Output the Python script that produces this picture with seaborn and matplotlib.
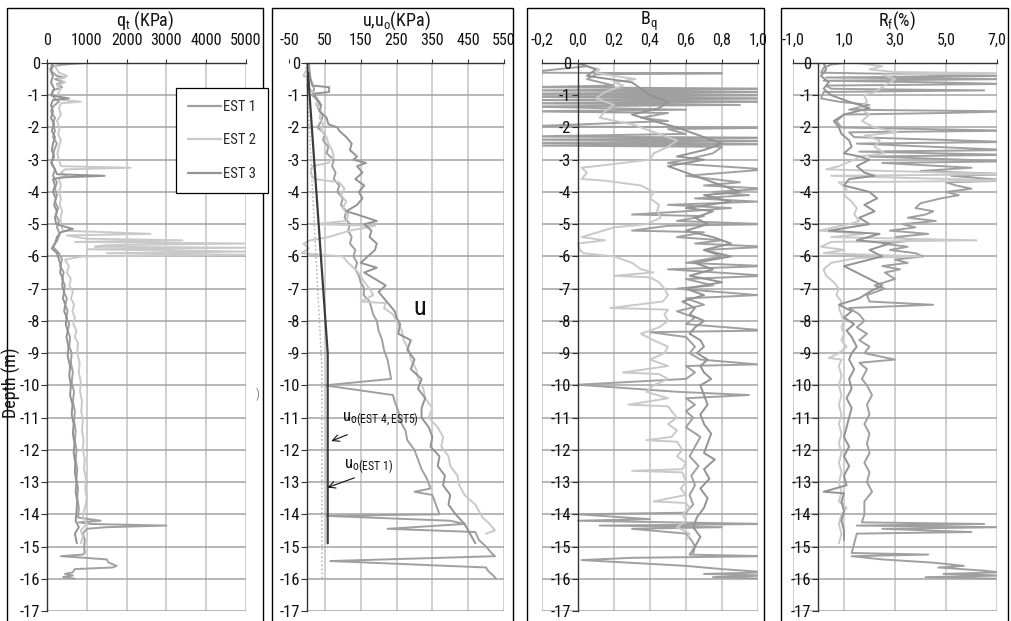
import numpy as np
import pandas as pd
import seaborn as sns
import matplotlib
matplotlib.use('Agg')
import matplotlib.pyplot as plt
from matplotlib.patches import Rectangle
from matplotlib.lines import Line2D

# ---------------- data: (depth m, value) ----------------
series_names = ['EST 1', 'EST 2', 'EST 3']

qt_est1 = [(0.0, 950), (-0.05, 400), (-0.1, 150), (-0.25, 100), (-0.4, 250), (-0.45, 450), (-0.5, 200), (-0.6, 420),
           (-0.65, 250), (-0.75, 380), (-0.85, 150), (-1.0, 120), (-1.1, 200), (-1.2, 300), (-1.35, 150), (-1.5, 100),
           (-1.7, 200), (-1.9, 150), (-2.1, 200), (-2.3, 150), (-2.5, 250), (-2.7, 180), (-2.9, 150), (-3.1, 120),
           (-3.3, 200), (-3.5, 150), (-3.7, 250), (-3.9, 200), (-4.1, 250), (-4.3, 200), (-4.5, 280), (-4.7, 220),
           (-4.9, 300), (-5.1, 250), (-5.3, 320), (-5.5, 260), (-5.7, 150), (-5.9, 300), (-6.1, 380), (-6.3, 330),
           (-6.5, 420), (-6.7, 380), (-6.9, 450), (-7.1, 420), (-7.3, 500), (-7.5, 460), (-7.7, 520), (-7.9, 480),
           (-8.1, 560), (-8.3, 520), (-8.5, 580), (-8.8, 560), (-9.0, 620), (-9.3, 600), (-9.6, 650), (-9.9, 620),
           (-10.2, 680), (-10.5, 650), (-10.8, 700), (-11.1, 680), (-11.4, 720), (-11.7, 700), (-12.0, 740),
           (-12.3, 720), (-12.6, 760), (-12.9, 740), (-13.2, 780), (-13.5, 760), (-13.8, 800), (-14.1, 780),
           (-14.2, 1350), (-14.25, 800), (-14.3, 1100), (-14.35, 3000), (-14.4, 1500), (-14.45, 1000), (-14.6, 900),
           (-14.8, 950), (-15.0, 930), (-15.2, 950), (-15.25, 900), (-15.3, 350), (-15.35, 950), (-15.4, 1500),
           (-15.5, 1550), (-15.6, 1750), (-15.65, 1650), (-15.7, 700), (-15.8, 650), (-15.85, 450), (-15.9, 650),
           (-15.95, 400), (-16.0, 700)]
qt_est2 = [(0.0, 300), (-0.1, 200), (-0.3, 300), (-0.4, 500), (-0.5, 300), (-0.6, 450), (-0.7, 250), (-0.8, 350),
           (-1.0, 250), (-1.15, 400), (-1.2, 850), (-1.25, 350), (-1.4, 300), (-1.6, 350), (-1.8, 250), (-2.0, 320),
           (-2.2, 280), (-2.4, 350), (-2.6, 300), (-2.8, 260), (-3.0, 300), (-3.2, 350), (-3.25, 2100), (-3.3, 450),
           (-3.4, 350), (-3.5, 500), (-3.6, 300), (-3.8, 350), (-4.0, 300), (-4.2, 350), (-4.4, 320), (-4.6, 380),
           (-4.8, 340), (-5.0, 350), (-5.2, 400), (-5.3, 2600), (-5.35, 500), (-5.45, 1000), (-5.5, 3400),
           (-5.55, 700), (-5.6, 5000), (-5.65, 1500), (-5.7, 1200), (-5.73, 5000), (-5.78, 1000), (-5.85, 5000),
           (-5.9, 1500), (-5.95, 5000), (-6.0, 900), (-6.1, 450), (-6.3, 550), (-6.5, 500), (-6.7, 600), (-6.9, 560),
           (-7.1, 650), (-7.3, 600), (-7.5, 680), (-7.7, 640), (-7.9, 700), (-8.1, 660), (-8.3, 740), (-8.5, 700),
           (-8.7, 780), (-9.0, 760), (-9.3, 820), (-9.6, 800), (-9.9, 850), (-10.2, 830), (-10.5, 880), (-10.8, 860),
           (-11.1, 900), (-11.4, 880), (-11.7, 920), (-12.0, 900), (-12.3, 950), (-12.6, 930), (-12.9, 980),
           (-13.2, 960), (-13.5, 1000), (-13.8, 950), (-14.1, 900), (-14.3, 1000), (-14.5, 850), (-14.7, 900),
           (-14.9, 850)]
qt_est3 = [(0.0, 150), (-0.2, 80), (-0.4, 150), (-0.6, 100), (-0.8, 180), (-1.0, 100), (-1.1, 550), (-1.15, 150),
           (-1.3, 100), (-1.5, 150), (-1.7, 100), (-1.9, 180), (-2.1, 120), (-2.3, 200), (-2.5, 150), (-2.7, 120),
           (-2.9, 180), (-3.1, 100), (-3.3, 200), (-3.45, 250), (-3.5, 1450), (-3.55, 350), (-3.6, 150), (-3.8, 200),
           (-4.0, 150), (-4.2, 220), (-4.4, 180), (-4.6, 250), (-4.8, 200), (-5.0, 230), (-5.15, 650), (-5.25, 350),
           (-5.4, 250), (-5.6, 200), (-5.75, 120), (-5.9, 250), (-6.1, 300), (-6.3, 350), (-6.5, 330), (-6.7, 400),
           (-6.9, 380), (-7.1, 430), (-7.3, 400), (-7.5, 460), (-7.7, 430), (-7.9, 500), (-8.1, 470), (-8.3, 520),
           (-8.5, 490), (-8.8, 540), (-9.1, 520), (-9.4, 580), (-9.7, 560), (-10.0, 600), (-10.3, 580), (-10.6, 640),
           (-10.9, 620), (-11.2, 670), (-11.5, 650), (-11.8, 690), (-12.1, 670), (-12.4, 710), (-12.7, 700),
           (-13.0, 740), (-13.3, 720), (-13.6, 760), (-13.9, 740), (-14.2, 720), (-14.4, 800), (-14.6, 700),
           (-14.9, 750)]

u_est1 = [(0.0, 0), (-0.3, 5), (-0.5, 10), (-0.8, 20), (-1.0, 15), (-1.2, 35), (-1.4, 30), (-1.6, 45), (-1.8, 40),
          (-2.0, 30), (-2.2, 50), (-2.4, 45), (-2.6, 60), (-2.8, 55), (-3.0, 75), (-3.2, 70), (-3.4, 80), (-3.6, 75),
          (-3.8, 90), (-4.0, 85), (-4.2, 100), (-4.4, 95), (-4.6, 110), (-4.8, 105), (-5.0, 120), (-5.2, 115),
          (-5.4, 125), (-5.6, 120), (-5.8, 135), (-6.0, 130), (-6.2, 140), (-6.4, 135), (-6.6, 145), (-6.8, 150),
          (-7.0, 160), (-7.2, 158), (-7.4, 175), (-7.6, 180), (-7.8, 185), (-8.0, 195), (-8.3, 200), (-8.6, 210),
          (-8.9, 215), (-9.2, 225), (-9.5, 230), (-9.8, 235), (-10.0, 50), (-10.3, 240), (-10.5, 245), (-10.8, 255),
          (-11.1, 260), (-11.4, 275), (-11.7, 280), (-12.0, 300), (-12.3, 310), (-12.6, 320), (-12.9, 335),
          (-13.2, 345), (-13.3, 300), (-13.4, 350), (-13.7, 360), (-14.0, 370), (-14.05, 55), (-14.2, 400),
          (-14.3, 440), (-14.45, 225), (-14.55, 470), (-14.8, 480), (-15.0, 500), (-15.2, 515), (-15.3, 525),
          (-15.45, 65), (-15.65, 500), (-15.75, 505), (-15.9, 520), (-16.0, 528)]
u_est2 = [(0.0, 5), (-0.2, 0), (-0.4, -10), (-0.5, 10), (-0.7, 0), (-0.9, 15), (-1.1, 30), (-1.3, 25), (-1.5, 40),
          (-1.7, 35), (-1.9, 45), (-2.1, 40), (-2.3, 55), (-2.5, 60), (-2.7, 70), (-2.9, 75), (-3.1, 60), (-3.2, 15),
          (-3.4, 10), (-3.6, 20), (-3.7, 90), (-3.9, 105), (-4.1, 95), (-4.3, 110), (-4.5, 100), (-4.7, 115),
          (-4.9, 110), (-5.0, 20), (-5.05, 190), (-5.2, 120), (-5.4, 60), (-5.5, 10), (-5.6, -10), (-5.75, 5),
          (-5.9, -15), (-6.0, 100), (-6.2, 115), (-6.4, 135), (-6.6, 150), (-6.8, 160), (-7.0, 175), (-7.2, 185),
          (-7.4, 150), (-7.45, 220), (-7.6, 215), (-7.8, 240), (-8.0, 250), (-8.3, 265), (-8.6, 270), (-8.9, 285),
          (-9.2, 290), (-9.5, 305), (-9.8, 310), (-10.1, 325), (-10.4, 330), (-10.7, 350), (-11.0, 340),
          (-11.3, 365), (-11.6, 380), (-11.9, 375), (-12.2, 395), (-12.5, 400), (-12.8, 420), (-13.1, 425),
          (-13.4, 440), (-13.7, 470), (-13.9, 480), (-14.1, 490), (-14.3, 510), (-14.5, 525), (-14.6, 500)]
u_est3 = [(0.0, 5), (-0.5, 10), (-0.7, 15), (-0.75, 62), (-0.9, 62), (-0.95, 20), (-1.1, 25), (-1.3, 40),
          (-1.5, 35), (-1.7, 55), (-1.9, 60), (-2.0, 85), (-2.1, 90), (-2.3, 110), (-2.5, 125), (-2.7, 120),
          (-2.9, 140), (-3.0, 130), (-3.1, 165), (-3.2, 140), (-3.4, 155), (-3.6, 135), (-3.8, 160), (-4.0, 145),
          (-4.2, 155), (-4.4, 140), (-4.6, 110), (-4.7, 140), (-4.9, 195), (-5.0, 160), (-5.2, 180), (-5.4, 175),
          (-5.6, 195), (-5.8, 190), (-6.0, 170), (-6.2, 150), (-6.35, 195), (-6.5, 160), (-6.7, 190), (-6.9, 220),
          (-7.1, 200), (-7.3, 215), (-7.5, 230), (-7.7, 245), (-7.9, 250), (-8.1, 260), (-8.4, 255), (-8.6, 290),
          (-8.9, 280), (-9.2, 300), (-9.5, 290), (-9.8, 320), (-10.1, 310), (-10.4, 330), (-10.7, 320),
          (-11.0, 320), (-11.3, 340), (-11.6, 350), (-11.9, 345), (-12.2, 370), (-12.5, 365), (-12.8, 385),
          (-13.1, 380), (-13.4, 400), (-13.7, 395), (-14.0, 415), (-14.3, 440), (-14.6, 455), (-14.9, 470)]
u0_est45 = [(-0.3, 3), (-9.0, 58), (-14.9, 58)]
u0_est1 = [(0.0, -3), (-9.5, 42), (-16.0, 42)]

bq_est1 = [(0.0, 0.0), (-0.1, 0.05), (-0.3, -0.3), (-0.32, 0.8), (-0.35, 0.1), (-0.5, 0.05), (-0.7, 0.2),
           (-0.75, -0.3), (-0.8, 1.2), (-0.85, -0.3), (-0.9, 1.2), (-0.95, -0.3), (-1.0, 1.2), (-1.05, -0.3),
           (-1.1, 1.2), (-1.15, -0.3), (-1.2, 1.2), (-1.25, -0.3), (-1.3, 0.9), (-1.35, -0.3), (-1.45, 0.6),
           (-1.5, -0.3), (-1.55, 0.5), (-1.7, 0.35), (-1.8, 0.5), (-1.97, -0.3), (-2.0, 1.2), (-2.05, 0.5),
           (-2.2, 0.6), (-2.28, -0.3), (-2.32, 1.2), (-2.38, -0.3), (-2.42, 1.2), (-2.48, -0.3), (-2.52, 1.2),
           (-2.56, -0.3), (-2.6, 0.8), (-2.8, 0.75), (-3.0, 0.6), (-3.1, 0.5), (-3.3, 1.05), (-3.5, 0.6),
           (-3.7, 0.9), (-3.8, 0.7), (-3.9, 1.05), (-4.0, 0.75), (-4.1, 0.95), (-4.2, 0.65), (-4.3, 1.0),
           (-4.4, 0.5), (-4.5, 0.85), (-4.6, 0.6), (-4.7, 0.3), (-4.75, 0.7), (-4.9, 0.55), (-5.0, 1.05),
           (-5.05, 0.5), (-5.2, 0.3), (-5.25, 0.7), (-5.4, 0.55), (-5.5, 0.8), (-5.6, 0.65), (-5.7, 1.05),
           (-5.8, 0.7), (-6.0, 0.8), (-6.2, 0.6), (-6.3, 1.05), (-6.4, 0.5), (-6.6, 1.05), (-6.7, 0.6),
           (-6.9, 0.75), (-7.0, 0.55), (-7.2, 1.0), (-7.3, 0.6), (-7.5, 0.7), (-7.7, 0.55), (-7.9, 0.65),
           (-8.1, 0.6), (-8.3, 1.05), (-8.35, 0.4), (-8.5, 0.6), (-8.8, 0.65), (-9.0, 0.62), (-9.2, 0.68),
           (-9.35, 1.0), (-9.4, 0.6), (-9.6, 0.65), (-9.8, 0.6), (-9.98, 0.0), (-10.2, 0.55), (-10.3, 0.95),
           (-10.4, 0.6), (-10.6, 0.65), (-10.8, 0.6), (-11.0, 0.64), (-11.3, 0.6), (-11.6, 0.68), (-11.9, 0.65),
           (-12.2, 0.62), (-12.5, 0.67), (-12.8, 0.63), (-13.1, 0.65), (-13.4, 0.62), (-13.7, 0.64),
           (-13.95, 0.6), (-14.0, 0.0), (-14.15, 0.4), (-14.2, 0.0), (-14.3, 1.05), (-14.35, 0.12), (-14.4, 0.8),
           (-14.45, 0.3), (-14.6, 0.6), (-14.8, 0.63), (-15.0, 0.65), (-15.25, 0.62), (-15.3, 1.05),
           (-15.35, 0.3), (-15.42, 0.02), (-15.6, 0.6), (-15.7, 0.8), (-15.8, 1.05), (-15.85, 0.7), (-15.9, 1.05),
           (-15.95, 0.75), (-16.0, 1.05)]
bq_est2 = [(0.0, 0.0), (-0.1, 0.05), (-0.2, 0.12), (-0.3, 0.1), (-0.4, 0.2), (-0.5, 0.32), (-0.6, 0.2),
           (-0.7, 0.25), (-0.9, 0.15), (-1.1, 0.1), (-1.3, 0.2), (-1.5, 0.15), (-1.7, 0.12), (-1.9, 0.3),
           (-2.1, 0.4), (-2.2, 0.45), (-2.4, 0.55), (-2.6, 0.5), (-2.8, 0.42), (-3.0, 0.4), (-3.1, 0.25),
           (-3.25, 0.02), (-3.4, 0.05), (-3.6, 0.02), (-3.65, 0.15), (-3.8, 0.35), (-4.0, 0.42), (-4.2, 0.4),
           (-4.4, 0.45), (-4.6, 0.44), (-4.8, 0.46), (-5.0, 0.38), (-5.1, 0.2), (-5.3, 0.08), (-5.4, 0.02),
           (-5.5, 0.15), (-5.6, 0.0), (-5.8, 0.01), (-5.9, 0.03), (-6.0, 0.2), (-6.2, 0.3), (-6.4, 0.35),
           (-6.5, 0.42), (-6.6, 0.2), (-6.65, 0.4), (-6.8, 0.45), (-7.0, 0.48), (-7.2, 0.5), (-7.4, 0.47),
           (-7.6, 0.18), (-7.65, 0.5), (-7.8, 0.48), (-8.0, 0.5), (-8.2, 0.45), (-8.4, 0.35), (-8.6, 0.42),
           (-8.8, 0.5), (-9.0, 0.48), (-9.2, 0.4), (-9.4, 0.5), (-9.6, 0.25), (-9.65, 0.45), (-9.8, 0.5),
           (-10.0, 0.42), (-10.2, 0.38), (-10.4, 0.5), (-10.6, 0.28), (-10.65, 0.5), (-10.8, 0.52), (-11.0, 0.55),
           (-11.2, 0.5), (-11.4, 0.55), (-11.6, 0.52), (-11.7, 0.38), (-11.75, 0.55), (-12.0, 0.58), (-12.2, 0.55),
           (-12.4, 0.6), (-12.6, 0.58), (-12.65, 0.3), (-12.7, 0.58), (-13.0, 0.6), (-13.2, 0.57), (-13.4, 0.6),
           (-13.6, 0.42), (-13.65, 0.6), (-13.8, 0.62), (-14.0, 0.58), (-14.2, 0.6), (-14.4, 0.55), (-14.6, 0.62),
           (-14.8, 0.6)]
bq_est3 = [(0.0, 0.0), (-0.2, 0.1), (-0.4, 0.05), (-0.6, 0.3), (-0.8, 0.35), (-1.0, 0.4), (-1.2, 0.5),
           (-1.4, 0.45), (-1.6, 0.3), (-1.8, 0.42), (-2.0, 0.55), (-2.2, 0.65), (-2.4, 0.75), (-2.5, 0.8),
           (-2.7, 0.7), (-2.9, 0.55), (-3.0, 0.7), (-3.2, 0.5), (-3.4, 0.6), (-3.6, 0.7), (-3.8, 0.8), (-4.0, 0.9),
           (-4.1, 0.7), (-4.3, 0.85), (-4.5, 0.6), (-4.6, 0.75), (-4.8, 0.65), (-5.0, 0.72), (-5.2, 0.6),
           (-5.4, 0.75), (-5.6, 0.85), (-5.8, 0.7), (-6.0, 0.85), (-6.2, 0.65), (-6.4, 0.75), (-6.6, 0.62),
           (-6.8, 0.8), (-7.0, 0.6), (-7.2, 0.7), (-7.4, 0.58), (-7.6, 0.65), (-7.8, 0.62), (-8.0, 0.7),
           (-8.2, 0.65), (-8.4, 0.62), (-8.6, 0.68), (-8.8, 0.7), (-9.0, 0.66), (-9.2, 0.72), (-9.4, 0.68),
           (-9.6, 0.7), (-9.8, 0.74), (-10.0, 0.68), (-10.3, 0.7), (-10.6, 0.72), (-10.9, 0.68), (-11.2, 0.7),
           (-11.5, 0.74), (-11.8, 0.72), (-12.1, 0.7), (-12.3, 0.76), (-12.6, 0.7), (-12.9, 0.73), (-13.2, 0.68),
           (-13.5, 0.72), (-13.8, 0.7), (-14.1, 0.66), (-14.4, 0.64), (-14.7, 0.68), (-15.0, 0.65), (-15.2, 0.64)]

rf_est1 = [(0.0, 1.0), (-0.05, 0.5), (-0.15, 0.2), (-0.3, 0.1), (-0.4, 7.5), (-0.45, 0.3), (-0.5, 7.5),
           (-0.55, 0.2), (-0.6, 4.5), (-0.65, 7.5), (-0.7, 0.3), (-0.8, 0.5), (-0.85, 6.5), (-0.9, 0.2),
           (-1.1, 0.1), (-1.2, 0.8), (-1.3, 2.0), (-1.45, 1.2), (-1.5, 7.5), (-1.55, 5.0), (-1.6, 1.0), (-1.8, 0.7),
           (-2.0, 0.9), (-2.1, 7.5), (-2.15, 1.2), (-2.3, 1.4), (-2.45, 7.5), (-2.5, 1.5), (-2.7, 7.5), (-2.75, 1.6),
           (-2.85, 7.5), (-2.9, 2.0), (-3.05, 7.5), (-3.1, 2.5), (-3.25, 6.0), (-3.35, 4.0), (-3.45, 7.5),
           (-3.5, 5.2), (-3.65, 7.5), (-3.7, 5.0), (-3.8, 5.4), (-3.9, 6.0), (-4.0, 5.0), (-4.1, 5.5), (-4.2, 4.8),
           (-4.35, 4.0), (-4.5, 3.8), (-4.6, 4.5), (-4.7, 4.2), (-4.8, 3.5), (-4.9, 4.6), (-5.0, 3.3), (-5.1, 3.8),
           (-5.2, 2.8), (-5.3, 4.3), (-5.4, 3.0), (-5.5, 3.8), (-5.6, 2.5), (-5.7, 3.5), (-5.8, 2.8), (-5.9, 3.8),
           (-6.0, 4.1), (-6.1, 3.0), (-6.2, 3.5), (-6.3, 2.5), (-6.4, 3.2), (-6.5, 2.6), (-6.7, 3.0), (-6.9, 2.2),
           (-7.0, 2.6), (-7.2, 1.9), (-7.4, 2.0), (-7.5, 4.5), (-7.6, 1.2), (-7.8, 1.6), (-8.0, 1.8), (-8.2, 1.5),
           (-8.4, 1.9), (-8.6, 1.6), (-8.8, 2.0), (-9.0, 1.8), (-9.2, 3.0), (-9.3, 1.6), (-9.5, 1.9), (-9.8, 1.7),
           (-10.0, 1.9), (-10.3, 2.1), (-10.6, 1.9), (-10.9, 2.0), (-11.2, 1.8), (-11.5, 2.0), (-11.8, 1.9),
           (-12.1, 2.0), (-12.4, 1.8), (-12.7, 2.0), (-13.0, 1.9), (-13.3, 2.1), (-13.6, 1.8), (-14.0, 1.8),
           (-14.25, 1.7), (-14.3, 6.5), (-14.35, 1.5), (-14.4, 7.2), (-14.45, 2.5), (-14.55, 6.0), (-14.6, 1.5),
           (-14.9, 1.4), (-15.2, 1.3), (-15.25, 4.3), (-15.3, 1.3), (-15.4, 2.5), (-15.5, 4.5), (-15.6, 5.7),
           (-15.65, 4.7), (-15.75, 6.5), (-15.8, 7.1), (-15.85, 4.9), (-15.9, 7.2), (-15.95, 4.2), (-16.0, 7.2)]
rf_est2 = [(0.0, 1.5), (-0.1, 2.5), (-0.2, 2.0), (-0.28, 3.0), (-0.32, 7.5), (-0.36, 2.5), (-0.5, 3.0),
           (-0.7, 2.6), (-0.9, 2.2), (-1.0, 1.8), (-1.2, 1.9), (-1.4, 1.6), (-1.6, 2.0), (-1.8, 1.7), (-2.0, 2.2),
           (-2.15, 3.1), (-2.25, 1.8), (-2.4, 2.4), (-2.6, 2.2), (-2.8, 2.6), (-2.9, 1.6), (-3.0, 1.4), (-3.2, 0.8),
           (-3.3, 0.3), (-3.45, 7.5), (-3.5, 0.5), (-3.65, 7.5), (-3.7, 0.8), (-3.9, 1.1), (-4.1, 1.0), (-4.3, 1.3),
           (-4.5, 1.5), (-4.7, 1.4), (-4.9, 1.6), (-5.0, 1.2), (-5.2, 0.0), (-5.3, 1.8), (-5.4, 0.5), (-5.5, 6.2),
           (-5.55, 0.5), (-5.7, 0.1), (-5.8, 1.0), (-5.9, 0.2), (-6.0, 4.0), (-6.05, 1.5), (-6.2, 0.5), (-6.4, 0.2),
           (-6.6, 0.3), (-6.8, 0.6), (-7.0, 0.8), (-7.2, 0.7), (-7.4, 0.9), (-7.6, 0.8), (-7.8, 0.9), (-8.0, 1.0),
           (-8.2, 0.9), (-8.4, 1.0), (-8.6, 0.9), (-8.8, 1.1), (-9.0, 0.8), (-9.15, 0.4), (-9.2, 0.9), (-9.4, 0.8),
           (-9.7, 0.9), (-10.0, 0.8), (-10.3, 0.9), (-10.6, 0.8), (-10.9, 0.9), (-11.2, 0.8), (-11.5, 0.9),
           (-11.8, 0.8), (-12.1, 0.9), (-12.4, 0.8), (-12.7, 0.9), (-13.0, 0.8), (-13.3, 0.9), (-13.6, 0.8),
           (-13.8, 1.1), (-14.0, 0.9), (-14.3, 0.8), (-14.6, 0.9), (-14.9, 0.8)]
rf_est3 = [(0.0, 0.2), (-0.2, 0.3), (-0.4, 0.1), (-0.6, 0.4), (-0.8, 0.2), (-1.0, 0.5), (-1.2, 1.2), (-1.4, 2.0),
           (-1.6, 1.0), (-1.8, 0.6), (-2.0, 0.8), (-2.2, 0.9), (-2.4, 1.2), (-2.6, 1.3), (-2.8, 1.0), (-2.9, 1.6),
           (-3.0, 2.0), (-3.2, 1.5), (-3.4, 1.8), (-3.5, 2.2), (-3.6, 1.2), (-3.8, 1.0), (-4.0, 2.0), (-4.2, 2.3),
           (-4.4, 1.8), (-4.6, 2.2), (-4.8, 1.6), (-5.0, 2.0), (-5.2, 0.4), (-5.3, 2.4), (-5.5, 1.5), (-5.6, 2.8),
           (-5.8, 2.0), (-6.0, 2.5), (-6.3, 1.0), (-6.5, 1.5), (-6.7, 2.0), (-6.9, 2.5), (-7.1, 2.0), (-7.3, 1.6),
           (-7.5, 0.8), (-7.7, 1.3), (-7.9, 1.0), (-8.1, 1.4), (-8.3, 1.1), (-8.5, 1.3), (-8.8, 1.5), (-9.0, 1.3),
           (-9.2, 1.2), (-9.5, 1.4), (-9.8, 1.2), (-10.1, 1.3), (-10.4, 1.1), (-10.7, 1.3), (-11.0, 1.2),
           (-11.3, 1.1), (-11.6, 1.0), (-11.9, 1.2), (-12.2, 1.0), (-12.5, 1.2), (-12.8, 1.0), (-13.1, 1.1),
           (-13.3, 0.2), (-13.35, 1.0), (-13.6, 0.9), (-13.9, 1.0), (-14.2, 0.9), (-14.5, 1.0), (-14.8, 1.0)]

depth_ticks = list(range(0, -18, -1))
qt_ticks = [0, 1000, 2000, 3000, 4000, 5000]
qt_labels = ['0', '1000', '2000', '3000', '4000', '5000']
u_ticks = [-50, 50, 150, 250, 350, 450, 550]
u_labels = ['-50', '50', '150', '250', '350', '450', '550']
bq_ticks = [-0.2, 0.0, 0.2, 0.4, 0.6, 0.8, 1.0]
bq_labels = ['-0,2', '0,0', '0,2', '0,4', '0,6', '0,8', '1,0']
rf_ticks = [-1, 1, 3, 5, 7]
rf_labels = ['-1,0', '1,0', '3,0', '5,0', '7,0']

series_colors = {'EST 1': '#a0a0a0', 'EST 2': '#c9c9c9', 'EST 3': '#939393'}


def to_frame(d):
    rows = []
    for name, pts in d.items():
        for dep, val in pts:
            rows.append((name, dep, val))
    return pd.DataFrame(rows, columns=['series', 'depth', 'value'])


sns.set_theme(style='white')
FONTS = ['Liberation Sans Narrow', 'Roboto Condensed', 'Liberation Sans', 'DejaVu Sans']
plt.rcParams['font.family'] = FONTS
plt.rcParams['mathtext.fontset'] = 'custom'
plt.rcParams['mathtext.rm'] = 'Roboto Condensed'
plt.rcParams['mathtext.it'] = 'Roboto Condensed'
plt.rcParams['mathtext.default'] = 'regular'

W, H = 1012, 621
fig = plt.figure(figsize=(W / 100, H / 100), dpi=100)
fig.patch.set_facecolor('white')

TOP, BOT = 63, 611
AX_COL = '#333333'
HGRID = '#a3a3a3'
VGRID = '#c2c2c2'
TXT = '#111111'

panels = [
    dict(l=47, r=246, xlim=(0, 5000), ticks=qt_ticks, labels=qt_labels, vgrid=[1000, 2000, 3000, 4000, 5000],
         hstart=0, data={'EST 1': qt_est1, 'EST 2': qt_est2, 'EST 3': qt_est3},
         title=r'q$_{t}$ (KPa)', tx=145),
    dict(l=289, r=504, xlim=(-50, 550), ticks=u_ticks, labels=u_labels, vgrid=[50, 150, 250, 350, 450, 550],
         hstart=0, data={'EST 1': u_est1, 'EST 2': u_est2, 'EST 3': u_est3},
         title=r'u,u$_{o}$(KPa)', tx=396),
    dict(l=542, r=758, xlim=(-0.2, 1.0), ticks=bq_ticks, labels=bq_labels, vgrid=[-0.2, 0.2, 0.4, 0.6, 0.8, 1.0],
         hstart=-0.2, data={'EST 1': bq_est1, 'EST 2': bq_est2, 'EST 3': bq_est3},
         title=r'B$_{q}$', tx=649),
    dict(l=793, r=997, xlim=(-1, 7), ticks=rf_ticks, labels=rf_labels, vgrid=[-1, 1, 3, 5, 7],
         hstart=-1, data={'EST 1': rf_est1, 'EST 2': rf_est2, 'EST 3': rf_est3},
         title=r'R$_{f}$(%)', tx=897),
]

axes = []
for p in panels:
    ax = fig.add_axes([p['l'] / W, 1 - BOT / H, (p['r'] - p['l']) / W, (BOT - TOP) / H])
    ax.set_facecolor('white')
    ax.grid(False)
    ax.hlines(depth_ticks[1:], p['hstart'], p['xlim'][1], colors=HGRID, lw=1.1, zorder=0.6)
    ax.vlines(p['vgrid'], -17, 0, colors=VGRID, lw=1.1, zorder=0.5)
    df = to_frame(p['data'])
    sns.lineplot(data=df, x='value', y='depth', hue='series', hue_order=series_names, palette=series_colors,
                 sort=False, estimator=None, orient='y', legend=False, lw=1.4, ax=ax, zorder=2)
    ax.set_xlim(*p['xlim'])
    ax.set_ylim(-17, 0)
    ax.set_xlabel('')
    ax.set_ylabel('')
    for s in ['right', 'bottom']:
        ax.spines[s].set_visible(False)
    ax.spines['left'].set_position(('data', 0))
    ax.spines['left'].set_color(AX_COL)
    ax.spines['left'].set_linewidth(1.0)
    ax.spines['left'].set_zorder(3)
    ax.spines['top'].set_color(AX_COL)
    ax.spines['top'].set_linewidth(1.0)
    ax.spines['top'].set_bounds(p['hstart'], p['xlim'][1])
    ax.xaxis.tick_top()
    ax.set_xticks(p['ticks'])
    ax.set_xticklabels(p['labels'])
    ax.set_yticks(depth_ticks)
    ax.set_yticklabels([str(v) for v in depth_ticks])
    ax.tick_params(axis='x', top=True, bottom=False, direction='out', length=3, width=0.8, pad=8,
                   labelsize=11.5, color=AX_COL, labelcolor=TXT)
    ax.tick_params(axis='y', left=True, direction='out', length=4, width=0.8, pad=1,
                   labelsize=12, color=AX_COL, labelcolor=TXT)
    ax.xaxis.set_zorder(6)
    ax.yaxis.set_zorder(6)
    fig.text(p['tx'] / W, 1 - 21 / H, p['title'], ha='center', va='center', fontsize=13, color=TXT)
    axes.append(ax)

# u0 reference lines and annotations in panel 2
ax2 = axes[1]
u0a = pd.DataFrame(u0_est45, columns=['depth', 'value'])
u0b = pd.DataFrame(u0_est1, columns=['depth', 'value'])
sns.lineplot(data=u0a, x='value', y='depth', sort=False, estimator=None, orient='y', color='#3c3c3c', lw=1.6,
             ax=ax2, zorder=2.5)
sns.lineplot(data=u0b, x='value', y='depth', sort=False, estimator=None, orient='y', color='#b0b0b0', lw=1.1,
             ls=':', ax=ax2, zorder=2.5)
ax2.set_xlabel('')
ax2.set_ylabel('')
ax2.text(316, -7.6, 'u', fontsize=19, ha='center', va='center', color=TXT)
ax2.text(97, -11.07, r'u$_{o(EST\ 4,EST5)}$', fontsize=12, ha='left', va='center', color=TXT)
ax2.annotate('', xy=(61, -11.76), xytext=(120, -11.5),
             arrowprops=dict(arrowstyle='->', color=TXT, lw=0.8))
ax2.text(103, -12.53, r'u$_{o(EST\ 1)}$', fontsize=12, ha='left', va='center', color=TXT)
ax2.annotate('', xy=(50, -13.2), xytext=(140, -12.84),
             arrowprops=dict(arrowstyle='->', color=TXT, lw=0.8))

# legend in panel 1
handles = [Line2D([], [], color=series_colors[n], lw=1.6) for n in series_names]
leg = fig.legend(handles, series_names, loc='upper left', bbox_to_anchor=(176 / W, 1 - 88 / H),
                 frameon=True, fancybox=False, edgecolor='black', framealpha=1, fontsize=10.5,
                 labelspacing=1.35, handlelength=2.3, handletextpad=0.15, borderpad=0.8, borderaxespad=0)
leg.get_frame().set_linewidth(0.9)

fig.text(11 / W, 1 - 383 / H, 'Depth (m)', rotation=90, ha='center', va='center', fontsize=13, color=TXT)
fig.text(258 / W, 1 - 394 / H, ')', ha='center', va='center', fontsize=9, color='#888888')

# panel frames
for x0, x1 in [(7, 263), (272, 513), (527, 764), (781, 1008)]:
    fig.add_artist(Rectangle((x0 / W, -0.05), (x1 - x0) / W, 1.05 - 8 / H, transform=fig.transFigure,
                             fill=False, edgecolor='black', lw=1.0))

fig.savefig('out.png', dpi=100)
